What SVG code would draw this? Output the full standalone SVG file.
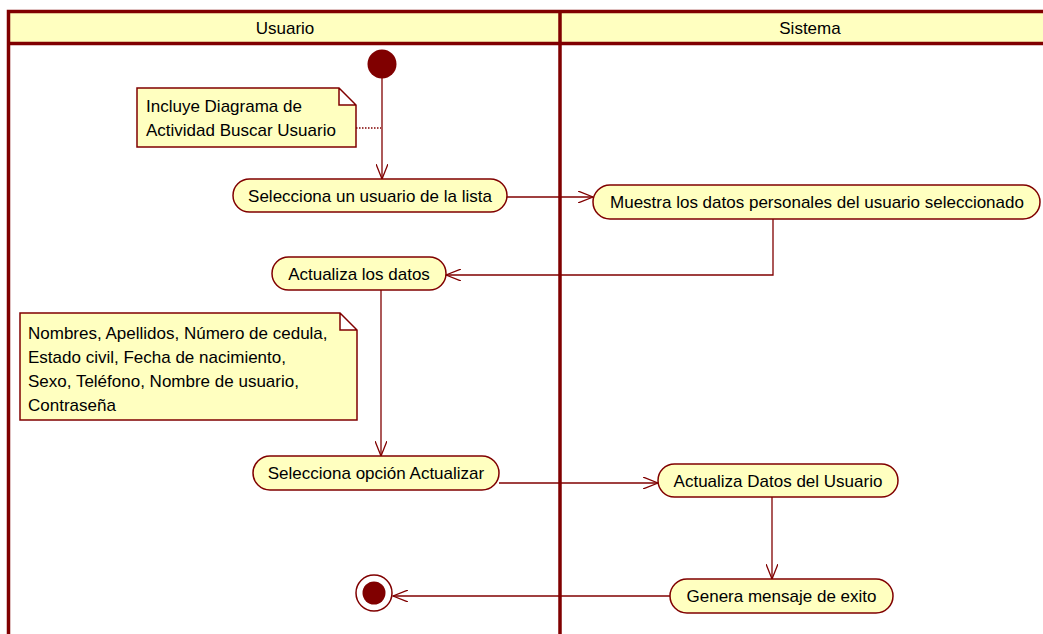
<svg xmlns="http://www.w3.org/2000/svg" width="1043" height="634" viewBox="0 0 1043 634">
<defs>
<style>
.lane{fill:#FFFFC0;stroke:none}
.lb{stroke:#800000;stroke-width:3.5;fill:none}
.act{fill:#FFFFC0;stroke:#800000;stroke-width:1.5}
.note{fill:#FFFFC0;stroke:#800000;stroke-width:1.5}
.t{font-family:"Liberation Sans",Arial,sans-serif;font-size:17px;fill:#000}
.c{stroke:#800000;stroke-width:1.3;fill:none}
</style>
<marker id="arr" markerWidth="16" markerHeight="12" refX="15" refY="6" orient="auto" markerUnits="userSpaceOnUse">
<path d="M0,0 L15,6 L0,12" fill="none" stroke="#800000" stroke-width="1.3"/>
</marker>
</defs>
<rect width="1043" height="634" fill="#fff"/>
<g id="lanes">
<rect class="lane" x="8.5" y="11.5" width="1040" height="32"/>
<path class="lb" d="M8.5,634 V11.5 H1048 M8.5,43.5 H1048 M560,11.5 V634"/>
<text class="t" x="285" y="34" text-anchor="middle">Usuario</text>
<text class="t" x="810" y="34" text-anchor="middle">Sistema</text>
</g>
<g id="connectors">
<path class="c" d="M382,78 V179" marker-end="url(#arr)"/>
<path class="c" d="M356,128 H381" stroke-dasharray="1.5,1.5"/>
<path class="c" d="M507,197 H593" marker-end="url(#arr)"/>
<path class="c" d="M773,219 V275 H446" marker-end="url(#arr)"/>
<path class="c" d="M381,290 V456" marker-end="url(#arr)"/>
<path class="c" d="M499,483 H658" marker-end="url(#arr)"/>
<path class="c" d="M772,497 V579" marker-end="url(#arr)"/>
<path class="c" d="M670,596 H393" marker-end="url(#arr)"/>
</g>
<g id="start"><circle cx="382" cy="64" r="14.5" fill="#800000"/></g>
<g id="note1">
<path class="note" d="M137,88 H339 L356,105 V147 H137 Z M339,88 V105 H356"/>
<text class="t" x="146" y="112">Incluye Diagrama de</text>
<text class="t" x="146" y="136">Actividad Buscar Usuario</text>
</g>
<g id="a1">
<rect class="act" x="233" y="179" width="274" height="33" rx="16.5"/>
<text class="t" x="370" y="202" text-anchor="middle">Selecciona un usuario de la lista</text>
</g>
<g id="a2">
<rect class="act" x="593" y="185" width="447" height="34" rx="17"/>
<text class="t" x="817" y="208" text-anchor="middle">Muestra los datos personales del usuario seleccionado</text>
</g>
<g id="a3">
<rect class="act" x="272" y="257" width="174" height="33" rx="16.5"/>
<text class="t" x="359" y="280" text-anchor="middle">Actualiza los datos</text>
</g>
<g id="note2">
<path class="note" d="M20,313 H340 L357,330 V420 H20 Z M340,313 V330 H357"/>
<text class="t" x="28" y="339">Nombres, Apellidos, Número de cedula,</text>
<text class="t" x="28" y="363">Estado civil, Fecha de nacimiento,</text>
<text class="t" x="28" y="387">Sexo, Teléfono, Nombre de usuario,</text>
<text class="t" x="28" y="411">Contraseña</text>
</g>
<g id="a4">
<rect class="act" x="253" y="456" width="246" height="34" rx="17"/>
<text class="t" x="376" y="479" text-anchor="middle">Selecciona opción Actualizar</text>
</g>
<g id="a5">
<rect class="act" x="658" y="464" width="240" height="33" rx="16.5"/>
<text class="t" x="778" y="487" text-anchor="middle">Actualiza Datos del Usuario</text>
</g>
<g id="a6">
<rect class="act" x="670" y="579" width="223" height="34" rx="17"/>
<text class="t" x="781.5" y="602" text-anchor="middle">Genera mensaje de exito</text>
</g>
<g id="end">
<circle cx="374" cy="593" r="18" fill="#fff" stroke="#800000" stroke-width="1.5"/>
<circle cx="374" cy="593" r="11.5" fill="#800000"/>
</g>
</svg>
